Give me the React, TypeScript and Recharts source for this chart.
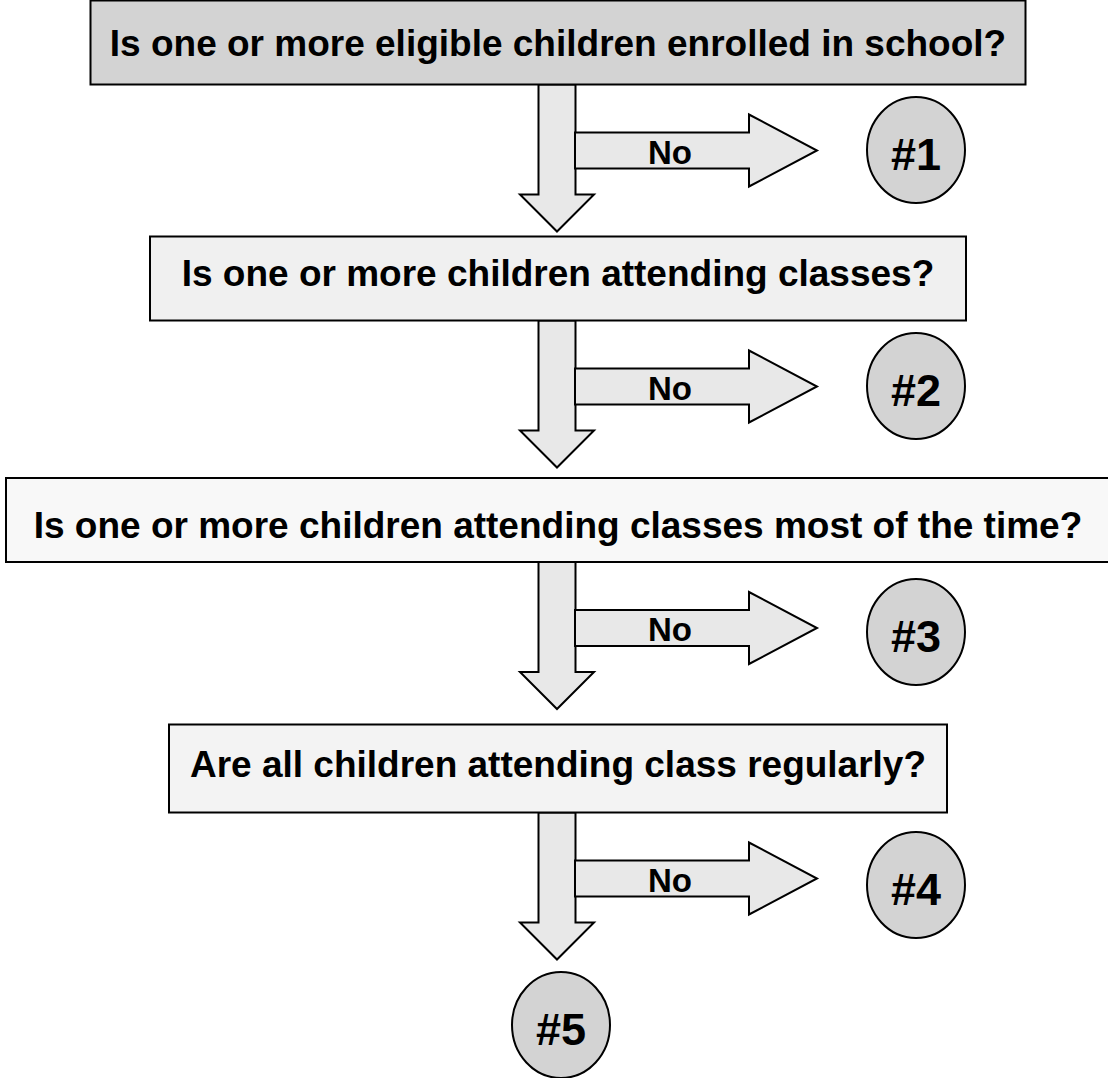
import React from 'react';
import { ScatterChart, Scatter, XAxis, YAxis } from 'recharts';

document.body.style.margin = '0';

const questions = [
  'Is one or more eligible children enrolled in school?',
  'Is one or more children attending classes?',
  'Is one or more children attending classes most of the time?',
  'Are all children attending class regularly?',
];
const outcomes = ['#1', '#2', '#3', '#4', '#5'];
const branchLabel = 'No';

// layout in px: the hidden axes map 1:1 onto the drawing area
const W = 1108;
const H = 1078;
const FLOW_X = 557;
const BOX_X = 558;
const BOX_Y = [42.5, 278.5, 520, 768.5];
const BOX_W = [935, 816, 1104, 778];
const BOX_H = [84, 84, 84, 88];
const TEXT_DY = [0, -6, 5, -5];
const BOX_FILL = ['#d3d3d3', '#f0f0f0', '#f8f8f8', '#f3f3f3'];
const OUTCOME_X = 916;
const OUTCOME_Y = [150, 386, 632, 885, 1025];
const FINAL_X = 561;

const FONT = '"Liberation Sans", Arial, Helvetica, sans-serif';
const STROKE = '#000';

const boxPoints = questions.map((text, i) => ({ x: BOX_X, y: BOX_Y[i], text, i }));
const downPoints = questions.map((_, i) => ({ x: FLOW_X, y: BOX_Y[i] + BOX_H[i] / 2, i }));
const rightPoints = questions.map((_, i) => ({ x: FLOW_X + 18, y: BOX_Y[i] + BOX_H[i] / 2 + 66, i }));
const outcomePoints = outcomes.map((label, i) => ({
  x: i < questions.length ? OUTCOME_X : FINAL_X,
  y: OUTCOME_Y[i],
  label,
}));

const QuestionBox = (props: any) => {
  const { cx, cy, payload } = props;
  const w = BOX_W[payload.i];
  const h = BOX_H[payload.i];
  return (
    <g>
      <rect x={cx - w / 2} y={cy - h / 2} width={w} height={h} fill={BOX_FILL[payload.i]} stroke={STROKE} strokeWidth={2} />
      <text x={cx} y={cy + 13 + TEXT_DY[payload.i]} textAnchor="middle" fontFamily={FONT} fontWeight="bold" fontSize={37} fill="#000">
        {payload.text}
      </text>
    </g>
  );
};

const DownArrow = (props: any) => {
  const { cx, cy } = props;
  const s = 18.5;
  const hw = 37;
  const shaft = 110;
  const len = 147;
  const pts = [
    [cx - s, cy], [cx + s, cy], [cx + s, cy + shaft], [cx + hw, cy + shaft],
    [cx, cy + len], [cx - hw, cy + shaft], [cx - s, cy + shaft],
  ].map((p) => p.join(',')).join(' ');
  return <polygon points={pts} fill="#e8e8e8" stroke={STROKE} strokeWidth={2} />;
};

const RightArrow = (props: any) => {
  const { cx, cy } = props;
  const s = 18;
  const hh = 36;
  const shaft = 174;
  const len = 242;
  const pts = [
    [cx, cy - s], [cx + shaft, cy - s], [cx + shaft, cy - hh], [cx + len, cy],
    [cx + shaft, cy + hh], [cx + shaft, cy + s], [cx, cy + s],
  ].map((p) => p.join(',')).join(' ');
  return (
    <g>
      <polygon points={pts} fill="#e8e8e8" stroke={STROKE} strokeWidth={2} />
      <text x={cx + 95} y={cy + 13} textAnchor="middle" fontFamily={FONT} fontWeight="bold" fontSize={33} fill="#000">
        {branchLabel}
      </text>
    </g>
  );
};

const Outcome = (props: any) => {
  const { cx, cy, payload } = props;
  return (
    <g>
      <ellipse cx={cx} cy={cy} rx={49} ry={53} fill="#d3d3d3" stroke={STROKE} strokeWidth={2} />
      <text x={cx} y={cy + 20} textAnchor="middle" fontFamily={FONT} fontWeight="bold" fontSize={45} fill="#000">
        {payload.label}
      </text>
    </g>
  );
};

export default function App() {
  return (
    <ScatterChart width={W} height={H} margin={{ top: 0, right: 0, bottom: 0, left: 0 }}>
      <XAxis type="number" dataKey="x" domain={[0, W]} allowDataOverflow hide />
      <YAxis type="number" dataKey="y" domain={[0, H]} allowDataOverflow reversed hide />
      <Scatter data={downPoints} shape={DownArrow} isAnimationActive={false} />
      <Scatter data={rightPoints} shape={RightArrow} isAnimationActive={false} />
      <Scatter data={boxPoints} shape={QuestionBox} isAnimationActive={false} />
      <Scatter data={outcomePoints} shape={Outcome} isAnimationActive={false} />
    </ScatterChart>
  );
}
